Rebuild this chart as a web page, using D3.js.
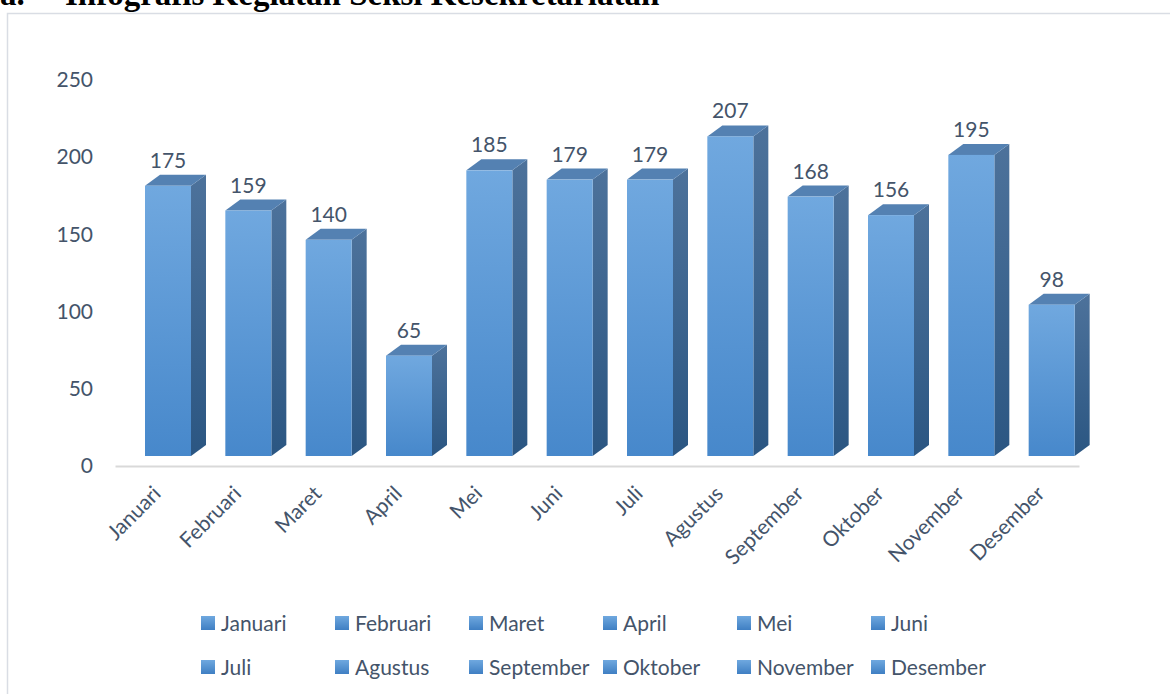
<!DOCTYPE html>
<html>
<head>
<meta charset="utf-8">
<script src="https://cdn.jsdelivr.net/npm/d3@7"></script>
<style>
  body { margin: 0; background: #fff; }
  text { font-family: Lato, 'Open Sans', sans-serif; }
  text.title { font-family: 'Liberation Serif', 'Times New Roman', serif; font-weight: bold; }
</style>
</head>
<body>
<div id="chart"></div>
<script>
const months = ['Januari', 'Februari', 'Maret', 'April', 'Mei', 'Juni',
    'Juli', 'Agustus', 'September', 'Oktober', 'November', 'Desember']
const values = [175, 159, 140, 65, 185, 179, 179, 207, 168, 156, 195, 98]
const yTicks = [0, 50, 100, 150, 200, 250]

const width = 1170
const height = 694
const textColor = '#44546a'

// 3d look of the bars (Excel style)
const lift = 10      // front face sits above the floor line
const depthX = 15
const depthY = 11
const faceOffset = 30
const faceWidth = 46

const svg = d3.select('#chart').append('svg')
    .attr('width', width)
    .attr('height', height)

const defs = svg.append('defs')
function vGrad (id, c1, c2) {
    const g = defs.append('linearGradient').attr('id', id)
        .attr('x1', 0).attr('y1', 0).attr('x2', 0).attr('y2', 1)
    g.append('stop').attr('offset', '0%').attr('stop-color', c1)
    g.append('stop').attr('offset', '100%').attr('stop-color', c2)
}
vGrad('front', '#70a8df', '#4788cb')
vGrad('side', '#4d729b', '#2b5682')
vGrad('legend', '#6fa8df', '#3f7fc3')

// title, cut off at the top of the page like in the source document
svg.append('text').attr('class', 'title').text('a.')
    .attr('x', 0).attr('y', 5)
    .attr('font-size', 33).attr('fill', '#000')
svg.append('text').attr('class', 'title').text('Infografis Kegiatan Seksi Kesekretariatan')
    .attr('x', 65).attr('y', 5)
    .attr('font-size', 33).attr('fill', '#000')

// chart frame
svg.append('rect')
    .attr('x', 7.5).attr('y', 13.5)
    .attr('width', width + 20).attr('height', height + 20)
    .attr('fill', 'none').attr('stroke', '#d9dde4').attr('stroke-width', 1.5)

const x = d3.scaleBand().domain(months).range([115, 1079]).padding(0)
const y = d3.scaleLinear().domain([0, 250]).range([466, 80])

// y axis
const yAxis = svg.append('g')
    .attr('transform', 'translate(100, 0)')
    .call(d3.axisLeft(y).tickValues(yTicks).tickSize(0).tickPadding(7))
yAxis.select('.domain').remove()
yAxis.selectAll('text')
    .attr('font-family', 'Lato, sans-serif')
    .attr('font-size', 21)
    .attr('fill', textColor)

// x axis
const xAxis = svg.append('g')
    .attr('transform', `translate(0, ${y(0)})`)
    .call(d3.axisBottom(x).tickSize(0).tickSizeOuter(0))
xAxis.select('.domain').attr('stroke', '#d9d9d9').attr('stroke-width', 2)
xAxis.selectAll('text')
    .attr('font-family', 'Lato, sans-serif')
    .attr('font-size', 21)
    .attr('fill', textColor)
    .attr('text-anchor', 'end')
    .attr('x', 0).attr('y', 0).attr('dy', 0)
    .attr('transform', 'translate(7, 29) rotate(-45)')

// bars
const data = months.map((m, i) => ({ month: m, value: values[i] }))
const bars = svg.selectAll('g.bar').data(data).enter().append('g').attr('class', 'bar')

const fx = d => x(d.month) + faceOffset
const fy = d => y(d.value) - lift
const base = y(0) - lift

bars.append('path')   // side face
    .attr('d', d => `M${fx(d) + faceWidth},${fy(d)} l${depthX},${-depthY} L${fx(d) + faceWidth + depthX},${base - depthY} L${fx(d) + faceWidth},${base} Z`)
    .attr('fill', 'url(#side)')
bars.append('path')   // top face
    .attr('d', d => `M${fx(d)},${fy(d)} l${depthX},${-depthY} h${faceWidth} l${-depthX},${depthY} Z`)
    .attr('fill', '#5481b2')
bars.append('rect')   // front face
    .attr('x', fx)
    .attr('y', fy)
    .attr('width', faceWidth)
    .attr('height', d => base - fy(d))
    .attr('fill', 'url(#front)')

// value labels
bars.append('text')
    .text(d => d.value)
    .attr('x', d => fx(d) + faceWidth / 2)
    .attr('y', d => fy(d) - 18)
    .attr('text-anchor', 'middle')
    .attr('font-size', 21)
    .attr('fill', textColor)

// legend
const legend = svg.selectAll('g.legend').data(months).enter().append('g')
    .attr('class', 'legend')
    .attr('transform', (d, i) => `translate(${201 + (i % 6) * 134}, ${i < 6 ? 623 : 667})`)
legend.append('rect')
    .attr('x', 0).attr('y', -7)
    .attr('width', 14).attr('height', 14)
    .attr('fill', 'url(#legend)')
legend.append('text')
    .text(d => d)
    .attr('x', 20).attr('y', 0).attr('dy', '0.36em')
    .attr('font-size', 21)
    .attr('fill', textColor)
</script>
</body>
</html>
